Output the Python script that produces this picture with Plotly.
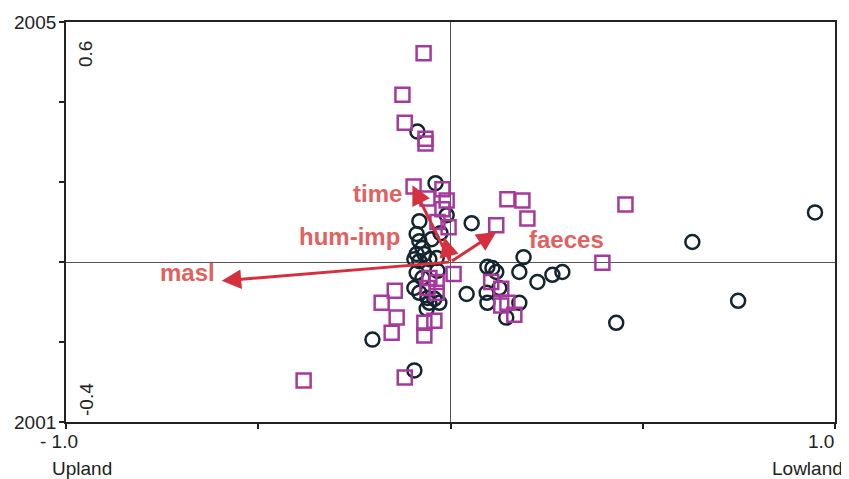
import plotly.graph_objects as go

# Sample scores (circles)
circle_x = [0.948, 0.629, 0.748, 0.431, 0.291, 0.265, 0.226, 0.190, 0.179, 0.179,
            0.145, 0.096, 0.094, 0.127, 0.119, 0.109, 0.096, 0.042, 0.055, -0.039,
            -0.086, -0.010, -0.081, -0.088, -0.081, -0.073, -0.088, -0.068, -0.049, -0.094,
            -0.081, -0.055, -0.036, -0.088, -0.073, -0.094, -0.081, -0.060, -0.042, -0.029,
            -0.062, -0.055, -0.203, -0.094, -0.026, -0.034]
circle_y = [0.124, 0.050, -0.097, -0.152, -0.025, -0.032, -0.050, 0.012, -0.025, -0.102,
            -0.139, -0.102, -0.077, -0.065, -0.025, -0.015, -0.012, -0.080, 0.097, 0.197,
            0.326, 0.117, 0.102, 0.070, 0.052, 0.035, 0.020, 0.020, 0.057, 0.007,
            0.002, 0.007, 0.010, -0.027, -0.040, -0.065, -0.077, -0.090, -0.092, -0.102,
            -0.117, -0.102, -0.194, -0.271, 0.072, -0.022]

# Sample scores (squares)
square_x = [-0.070, -0.125, -0.119, -0.065, -0.065, -0.096, -0.021, -0.060, -0.010, -0.034,
            -0.005, 0.119, 0.148, 0.187, 0.200, 0.455, 0.395, 0.008, 0.106, 0.132,
            0.132, 0.148, 0.166, -0.145, -0.179, -0.140, -0.153, -0.068, -0.068, -0.042,
            -0.119, -0.382, -0.055, -0.036, -0.036, -0.060, -0.021]
square_y = [0.522, 0.418, 0.348, 0.308, 0.296, 0.189, 0.182, 0.159, 0.154, 0.100,
            0.087, 0.092, 0.157, 0.154, 0.109, 0.144, -0.002, -0.030, -0.050, -0.067,
            -0.109, -0.102, -0.132, -0.072, -0.102, -0.139, -0.177, -0.184, -0.152, -0.147,
            -0.289, -0.296, -0.040, -0.050, -0.077, -0.065, 0.132]

# Environmental vectors
vec_names = ["masl", "time", "hum-imp", "faeces"]
vec_x = [-0.595, -0.099, -0.016, 0.119]
vec_y = [-0.047, 0.192, 0.062, 0.075]
lab_x = [-0.683, -0.190, -0.262, 0.301]
lab_y = [-0.027, 0.172, 0.065, 0.057]

circle_col = "#13262f"
square_col = "#a63a9c"
arrow_col = "#d62f3e"
label_col = "#e0615f"

fig = go.Figure()
fig.add_trace(go.Scatter(x=circle_x, y=circle_y, mode="markers",
                         marker=dict(symbol="circle-open", size=14, color=circle_col,
                                     line=dict(color=circle_col, width=2.5)),
                         showlegend=False))
fig.add_trace(go.Scatter(x=square_x, y=square_y, mode="markers",
                         marker=dict(symbol="square-open", size=14, color=square_col,
                                     line=dict(color=square_col, width=2.5)),
                         showlegend=False))

ann = []
for n, vx, vy, lx, ly in zip(vec_names, vec_x, vec_y, lab_x, lab_y):
    ann.append(dict(x=vx, y=vy, ax=0, ay=0, xref="x", yref="y", axref="x", ayref="y",
                    text="", showarrow=True, arrowhead=2, arrowsize=1.3,
                    arrowwidth=3, arrowcolor=arrow_col))
    ann.append(dict(x=lx, y=ly, xref="x", yref="y", text="<b>%s</b>" % n,
                    showarrow=False, font=dict(size=24, color=label_col,
                                               family="Liberation Sans, Arial")))

txt_font = dict(size=19, color="#222222", family="Liberation Sans, Arial")
ann += [
    dict(x=0, y=1, xref="paper", yref="paper", text="2005", showarrow=False,
         xanchor="right", yanchor="middle", xshift=-8, font=txt_font),
    dict(x=0, y=0, xref="paper", yref="paper", text="2001", showarrow=False,
         xanchor="right", yanchor="middle", xshift=-8, font=txt_font),
    dict(x=0, y=0, xref="paper", yref="paper", text="- 1.0", showarrow=False,
         xanchor="center", yanchor="middle", xshift=-7, yshift=-19, font=txt_font),
    dict(x=0, y=0, xref="paper", yref="paper", text="Upland", showarrow=False,
         xanchor="left", yanchor="middle", xshift=-16, yshift=-46, font=txt_font),
    dict(x=1, y=0, xref="paper", yref="paper", text="1.0", showarrow=False,
         xanchor="right", yanchor="middle", xshift=1, yshift=-19, font=txt_font),
    dict(x=1, y=0, xref="paper", yref="paper", text="Lowland", showarrow=False,
         xanchor="right", yanchor="middle", xshift=10, yshift=-46, font=txt_font),
    dict(x=0, y=1, xref="paper", yref="paper", text="0.6", showarrow=False,
         textangle=-90, xanchor="center", yanchor="middle", xshift=19, yshift=-32,
         font=txt_font),
    dict(x=0, y=0, xref="paper", yref="paper", text="-0.4", showarrow=False,
         textangle=-90, xanchor="center", yanchor="middle", xshift=20, yshift=22,
         font=txt_font),
]

fig.update_layout(
    width=841, height=471,
    margin=dict(l=58, r=13, t=12, b=57),
    plot_bgcolor="white", paper_bgcolor="white",
    annotations=ann,
    xaxis=dict(range=[-1, 1], showgrid=False, zeroline=True, zerolinecolor="#555555",
               zerolinewidth=1, showline=True, linecolor="#222222", linewidth=2,
               mirror=True, ticks="outside", ticklen=5, tickwidth=2, tickcolor="#222222",
               tickvals=[-1, -0.5, 0, 0.5, 1], showticklabels=False),
    yaxis=dict(range=[-0.4, 0.6], showgrid=False, zeroline=True, zerolinecolor="#555555",
               zerolinewidth=1, showline=True, linecolor="#222222", linewidth=2,
               mirror=True, ticks="outside", ticklen=5, tickwidth=2, tickcolor="#222222",
               tickvals=[-0.4, -0.2, 0, 0.2, 0.4, 0.6], showticklabels=False),
)

fig.write_html("out.html")
